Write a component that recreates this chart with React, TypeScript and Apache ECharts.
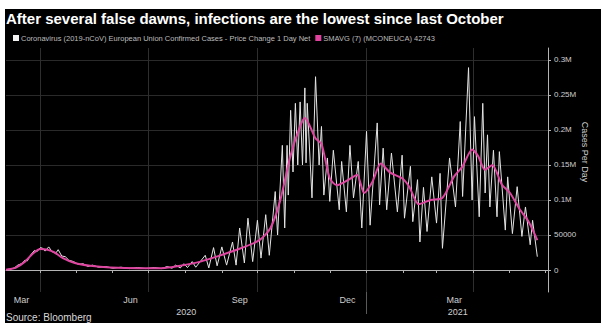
import React, { useEffect, useRef } from "react";
import * as echarts from "echarts";

const chartTitle = "After several false dawns, infections are the lowest since last October";
const dailyName = "Coronavirus (2019-nCoV) European Union Confirmed Cases - Price Change 1 Day Net";
const maName = "SMAVG (7) (MCONEUCA) 42743";

// Daily new cases: turning points of the weekly reporting cycle
const dailyDates = [
  "2020-03-03", "2020-03-07", "2020-03-10", "2020-03-13", "2020-03-16", "2020-03-19", "2020-03-21", "2020-03-24", "2020-03-27", "2020-03-29",
  "2020-04-01", "2020-04-03", "2020-04-05", "2020-04-08", "2020-04-11", "2020-04-14", "2020-04-16", "2020-04-19", "2020-04-22", "2020-04-25", "2020-04-29",
  "2020-05-03", "2020-05-07", "2020-05-11", "2020-05-15", "2020-05-20", "2020-05-26",
  "2020-06-01", "2020-06-08", "2020-06-15", "2020-06-22", "2020-06-29",
  "2020-07-06", "2020-07-12", "2020-07-17", "2020-07-21", "2020-07-24", "2020-07-28", "2020-07-31",
  "2020-08-03", "2020-08-07", "2020-08-10", "2020-08-18", "2020-08-21", "2020-08-25", "2020-08-28",
  "2020-09-01", "2020-09-05", "2020-09-10", "2020-09-13", "2020-09-16", "2020-09-20", "2020-09-23", "2020-09-27",
  "2020-10-01", "2020-10-04", "2020-10-08", "2020-10-11", "2020-10-16", "2020-10-18", "2020-10-22", "2020-10-24", "2020-10-26", "2020-10-27", "2020-10-29", "2020-10-31",
  "2020-11-02", "2020-11-04", "2020-11-06", "2020-11-08", "2020-11-10", "2020-11-11", "2020-11-12", "2020-11-16", "2020-11-19", "2020-11-22", "2020-11-24", "2020-11-26", "2020-11-29",
  "2020-12-01", "2020-12-04", "2020-12-09", "2020-12-11", "2020-12-15", "2020-12-18", "2020-12-21", "2020-12-25", "2020-12-28",
  "2021-01-01", "2021-01-04", "2021-01-10", "2021-01-12", "2021-01-15", "2021-01-18", "2021-01-22", "2021-01-27", "2021-01-31",
  "2021-02-02", "2021-02-07", "2021-02-09", "2021-02-13", "2021-02-15", "2021-02-18", "2021-02-21", "2021-02-25",
  "2021-03-01", "2021-03-04", "2021-03-06", "2021-03-12", "2021-03-17", "2021-03-21", "2021-03-23", "2021-03-28", "2021-03-31",
  "2021-04-02", "2021-04-06", "2021-04-09", "2021-04-11", "2021-04-13", "2021-04-15", "2021-04-18", "2021-04-21", "2021-04-23", "2021-04-28", "2021-04-30",
  "2021-05-04", "2021-05-08", "2021-05-12", "2021-05-15", "2021-05-19", "2021-05-21", "2021-05-25",
];
const dailyCases = [
  300, 1500, 3000, 7000, 9000, 14000, 13000, 22000, 28000, 26000,
  32000, 31000, 27000, 33000, 26000, 24000, 29000, 20000, 19000, 14000, 12000,
  8000, 9000, 5000, 7000, 4000, 5000,
  2500, 4000, 2000, 3500, 2000,
  3500, 2000, 5000, 2500, 7000, 3000, 9000,
  3500, 12000, 4000, 21000, 3000, 32000, 6000,
  33000, 7000, 40000, 7000, 60000, 10000, 74000, 12000,
  71000, 17000, 79000, 21000, 112000, 50000, 178000, 60000, 178000, 107000, 228000, 140000,
  238000, 150000, 240000, 150000, 260000, 153000, 238000, 103000, 276000, 150000, 205000, 107000, 160000,
  98000, 171000, 86000, 155000, 83000, 178000, 103000, 155000, 60000,
  198000, 64000, 210000, 93000, 174000, 86000, 167000, 83000, 164000,
  74000, 148000, 69000, 129000, 40000, 118000, 55000, 133000,
  67000, 138000, 31000, 160000, 90000, 212000, 105000, 289000, 100000,
  219000, 76000, 238000, 110000, 193000, 90000, 171000, 76000, 169000, 57000, 133000,
  52000, 119000, 48000, 90000, 36000, 71000, 19000,
];

// 7-day simple moving average
const maDates = [
  "2020-03-03", "2020-03-05", "2020-03-11", "2020-03-19", "2020-03-26", "2020-04-01", "2020-04-07", "2020-04-13", "2020-04-20", "2020-04-30",
  "2020-05-13", "2020-05-30", "2020-06-24", "2020-07-15", "2020-07-28", "2020-08-14", "2020-08-31", "2020-09-17", "2020-10-03", "2020-10-12",
  "2020-10-20", "2020-10-29", "2020-11-06", "2020-11-10", "2020-11-19", "2020-11-24", "2020-12-01", "2020-12-07", "2020-12-18", "2020-12-24",
  "2020-12-30", "2021-01-06", "2021-01-13", "2021-01-21", "2021-01-31", "2021-02-06", "2021-02-14", "2021-02-24", "2021-03-06", "2021-03-16",
  "2021-03-23", "2021-03-31", "2021-04-05", "2021-04-11", "2021-04-17", "2021-04-25", "2021-05-02", "2021-05-10", "2021-05-18", "2021-05-25",
];
const maValues = [
  300, 1000, 3000, 12000, 24000, 30000, 29000, 25000, 17000, 10000,
  6000, 3500, 2500, 3000, 6000, 12000, 21000, 31000, 43000, 60000,
  98000, 164000, 205000, 217000, 188000, 180000, 131000, 121000, 130000, 136000,
  110000, 126000, 152000, 139000, 131000, 119000, 94000, 100000, 103000, 134000,
  148000, 172000, 163000, 143000, 150000, 122000, 110000, 87000, 68000, 42743,
];

const axisStart = "2020-03-03";
const axisEnd = "2021-06-03";
const monthStarts = [
  "2020-04-01", "2020-05-01", "2020-06-01", "2020-07-01", "2020-08-01", "2020-09-01", "2020-10-01", "2020-11-01",
  "2020-12-01", "2021-01-01", "2021-02-01", "2021-03-01", "2021-04-01", "2021-05-01", "2021-06-01",
];
const quarterStarts = ["2020-04-01", "2020-07-01", "2020-10-01", "2021-01-01", "2021-04-01"];
const monthLabelDays = ["2020-03-16", "2020-06-16", "2020-09-16", "2020-12-16", "2021-03-16"];
const yearLabelDays = ["2020-08-02", "2021-03-19"];
const yearBreak = ["2021-01-01"];
const yTicks = [0, 50000, 100000, 150000, 200000, 250000, 300000];

const MONTHS = ["Jan", "Feb", "Mar", "Apr", "May", "Jun", "Jul", "Aug", "Sep", "Oct", "Nov", "Dec"];
const FONT = "'Liberation Sans', Arial, sans-serif";

function ts(s: string): number {
  const [y, m, d] = s.split("-").map(Number);
  return new Date(y, m - 1, d).getTime();
}

function yLabel(v: number): string {
  if (v >= 100000) return `${v / 1000000}M`;
  return String(v);
}

export default function App() {
  const ref = useRef<HTMLDivElement>(null);

  useEffect(() => {
    if (!ref.current) return;
    const chart = echarts.init(ref.current, null, { renderer: "svg" });
    const min = ts(axisStart);
    const max = ts(axisEnd);
    const axisColor = "#b4b4b4";
    const labelColor = "#cfcfcf";

    // x axes hold timestamps on a linear scale so ticks can sit on calendar dates
    const dateAxis = (extra: any) => ({
      type: "value",
      min,
      max,
      position: "bottom",
      scale: true,
      ...extra,
    });

    chart.setOption({
      animation: false,
      backgroundColor: "#000",
      title: {
        text: chartTitle,
        left: 1,
        top: 2,
        padding: 0,
        textStyle: { color: "#fff", fontSize: 15, fontWeight: "bold", fontFamily: FONT },
      },
      legend: {
        left: 8,
        top: 25,
        padding: 0,
        itemGap: 5,
        itemWidth: 6,
        itemHeight: 6,
        icon: "rect",
        data: [
          { name: dailyName, itemStyle: { color: "#f2f2f2" } },
          { name: maName, itemStyle: { color: "#e0439d" } },
        ],
        textStyle: { color: "#bdbdbd", fontSize: 7.5, fontFamily: FONT, padding: [0, 0, 0, -3] },
      },
      grid: { left: 1, right: 53, top: 39, bottom: 31, containLabel: false },
      xAxis: [
        dateAxis({
          axisLine: { show: true, lineStyle: { color: axisColor, width: 1 } },
          axisTick: { show: true, customValues: monthStarts.map(ts), length: 3, lineStyle: { color: axisColor } },
          axisLabel: {
            show: true,
            customValues: monthLabelDays.map(ts),
            formatter: (v: number) => MONTHS[new Date(v).getMonth()],
            color: labelColor,
            fontSize: 9,
            fontFamily: FONT,
            margin: 3,
          },
          splitLine: { show: false },
        }),
        dateAxis({
          axisLine: { show: false },
          axisTick: { show: false, customValues: quarterStarts.map(ts) },
          axisLabel: { show: false },
          splitLine: { show: true, lineStyle: { color: "#2e2e2e", width: 1 } },
        }),
        dateAxis({
          axisLine: { show: false },
          axisTick: { show: true, customValues: yearBreak.map(ts), length: 22, lineStyle: { color: "#5a5a5a" } },
          axisLabel: {
            show: true,
            customValues: yearLabelDays.map(ts),
            formatter: (v: number) => String(new Date(v).getFullYear()),
            color: labelColor,
            fontSize: 9,
            fontFamily: FONT,
            margin: 15,
          },
          splitLine: { show: false },
        }),
      ],
      yAxis: {
        type: "value",
        position: "right",
        min: -31400,
        max: 317000,
        axisLine: { show: true, lineStyle: { color: axisColor, width: 1 } },
        axisTick: { show: true, customValues: yTicks, length: 3, lineStyle: { color: axisColor } },
        axisLabel: {
          show: true,
          customValues: yTicks,
          formatter: yLabel,
          color: labelColor,
          fontSize: 8,
          fontFamily: FONT,
          margin: 6,
        },
        splitLine: { show: true, lineStyle: { color: "#2a2a2a", width: 1 } },
      },
      graphic: [
        {
          type: "text",
          x: 580,
          y: 143,
          rotation: -Math.PI / 2,
          style: {
            text: "Cases Per Day",
            fill: labelColor,
            font: `9px ${FONT}`,
            align: "center",
            verticalAlign: "middle",
          },
        },
        {
          type: "text",
          left: 1,
          top: 303,
          style: { text: "Source: Bloomberg", fill: "#d8d8d8", font: `10px ${FONT}` },
        },
      ],
      series: [
        {
          name: dailyName,
          type: "line",
          xAxisIndex: 0,
          yAxisIndex: 0,
          showSymbol: false,
          lineStyle: { color: "#e4e4e4", width: 1 },
          itemStyle: { color: "#f2f2f2" },
          data: dailyDates.map((d, i) => [ts(d), dailyCases[i]]),
          z: 2,
        },
        {
          name: maName,
          type: "line",
          xAxisIndex: 0,
          yAxisIndex: 0,
          showSymbol: false,
          smooth: 0.25,
          lineStyle: { color: "#de45a0", width: 2 },
          itemStyle: { color: "#de45a0" },
          data: maDates.map((d, i) => [ts(d), maValues[i]]),
          z: 3,
        },
      ],
    });

    return () => chart.dispose();
  }, []);

  return (
    <div
      ref={ref}
      style={{ position: "absolute", left: 5, top: 9, width: 596, height: 314, background: "#000" }}
    />
  );
}
